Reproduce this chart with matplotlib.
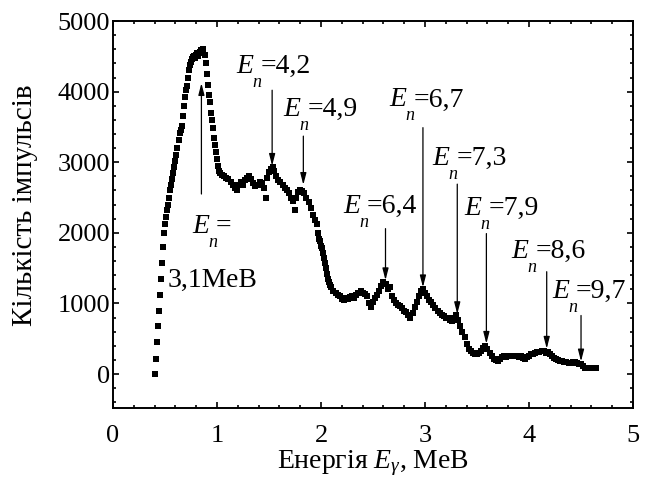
import numpy as np
import matplotlib
matplotlib.use("Agg")
import matplotlib.pyplot as plt
from matplotlib.ticker import MultipleLocator

plt.rcParams['font.family'] = ['Liberation Serif', 'DejaVu Serif']
plt.rcParams['mathtext.fontset'] = 'custom'
plt.rcParams['mathtext.rm'] = 'Liberation Serif'
plt.rcParams['mathtext.it'] = 'Liberation Serif:italic'

# spectrum: energy (MeV) and counts
energy = [0.40, 0.41, 0.42, 0.43, 0.44, 0.45, 0.46, 0.47, 0.48, 0.49,
          0.50, 0.51, 0.52, 0.53, 0.54, 0.55, 0.56, 0.57, 0.58, 0.59,
          0.60, 0.61, 0.62, 0.63, 0.64, 0.65, 0.66, 0.67, 0.68, 0.69,
          0.70, 0.71, 0.72, 0.73, 0.74, 0.75, 0.76, 0.77, 0.78, 0.79,
          0.80, 0.81, 0.82, 0.83, 0.84, 0.85, 0.86, 0.87, 0.88, 0.89,
          0.90, 0.91, 0.92, 0.93, 0.94, 0.95, 0.96, 0.97, 0.98, 0.99,
          1.00, 1.01, 1.02, 1.03, 1.05, 1.07, 1.09, 1.11, 1.13, 1.15,
          1.17, 1.19, 1.21, 1.23, 1.25, 1.27, 1.29, 1.31, 1.33, 1.35,
          1.37, 1.39, 1.41, 1.43, 1.45, 1.47, 1.48, 1.50, 1.52, 1.54,
          1.55, 1.57, 1.59, 1.61, 1.63, 1.65, 1.67, 1.69, 1.71, 1.73,
          1.75, 1.76, 1.78, 1.80, 1.82, 1.84, 1.86, 1.88, 1.90, 1.92,
          1.94, 1.96, 1.97, 1.98, 1.99, 2.00, 2.01, 2.02, 2.03, 2.04,
          2.05, 2.06, 2.07, 2.08, 2.09, 2.10, 2.12, 2.14, 2.16, 2.18,
          2.20, 2.22, 2.24, 2.26, 2.28, 2.30, 2.32, 2.34, 2.36, 2.38,
          2.40, 2.42, 2.44, 2.46, 2.48, 2.50, 2.52, 2.54, 2.56, 2.58,
          2.60, 2.62, 2.64, 2.66, 2.68, 2.70, 2.72, 2.74, 2.76, 2.78,
          2.80, 2.82, 2.84, 2.86, 2.88, 2.90, 2.92, 2.94, 2.96, 2.98,
          3.00, 3.02, 3.04, 3.06, 3.08, 3.10, 3.12, 3.14, 3.16, 3.18,
          3.20, 3.22, 3.24, 3.26, 3.28, 3.30, 3.32, 3.34, 3.36, 3.38,
          3.40, 3.42, 3.44, 3.46, 3.48, 3.50, 3.52, 3.54, 3.56, 3.58,
          3.60, 3.62, 3.64, 3.66, 3.68, 3.70, 3.72, 3.74, 3.76, 3.78,
          3.80, 3.82, 3.84, 3.86, 3.88, 3.90, 3.92, 3.94, 3.96, 3.98,
          4.00, 4.02, 4.04, 4.06, 4.08, 4.10, 4.12, 4.14, 4.16, 4.18,
          4.20, 4.22, 4.24, 4.26, 4.28, 4.30, 4.32, 4.34, 4.36, 4.38,
          4.40, 4.42, 4.44, 4.46, 4.48, 4.50, 4.52, 4.54, 4.56, 4.58,
          4.60, 4.62, 4.64]
counts = [0, 220, 450, 680, 900, 1120, 1350, 1580, 1800, 2000,
          2120, 2220, 2320, 2400, 2500, 2600, 2680, 2760, 2850, 2930,
          3020, 3100, 3200, 3320, 3420, 3450, 3520, 3650, 3800, 3920,
          4020, 4080, 4200, 4300, 4380, 4420, 4460, 4490, 4500, 4470,
          4520, 4550, 4500, 4540, 4560, 4590, 4570, 4600, 4520, 4400,
          4250, 4100, 3950, 3850, 3700, 3600, 3480, 3350, 3250, 3150,
          3050, 2950, 2880, 2850, 2820, 2800, 2780, 2760, 2720, 2680,
          2640, 2600, 2680, 2720, 2680, 2750, 2780, 2800, 2760, 2700,
          2660, 2680, 2720, 2700, 2640, 2500, 2780, 2860, 2900, 2930,
          2880, 2800, 2750, 2720, 2680, 2640, 2600, 2560, 2500, 2450,
          2320, 2500, 2580, 2600, 2590, 2560, 2500, 2440, 2350, 2250,
          2180, 2120, 2000, 1920, 1880, 1820, 1780, 1720, 1650, 1580,
          1500, 1420, 1350, 1300, 1260, 1230, 1180, 1150, 1120, 1100,
          1060, 1050, 1080, 1060, 1090, 1100, 1080, 1120, 1150, 1180,
          1150, 1130, 1100, 1000, 950, 1020, 1080, 1120, 1180, 1250,
          1300, 1280, 1200, 1230, 1100, 1050, 1000, 980, 960, 940,
          900, 880, 830, 800, 870, 950, 1020, 1100, 1180, 1200,
          1150, 1100, 1050, 1020, 980, 940, 900, 860, 830, 820,
          800, 790, 760, 750, 800, 830, 760, 680, 600, 520,
          420, 360, 320, 300, 280, 290, 300, 330, 370, 400,
          360, 300, 260, 220, 200, 190, 210, 240, 250, 240,
          260, 250, 250, 260, 250, 240, 250, 230, 220, 240,
          260, 280, 290, 300, 310, 310, 330, 320, 300, 310,
          290, 260, 230, 210, 200, 190, 180, 170, 170, 160,
          160, 170, 170, 160, 150, 140, 110, 90, 80, 80,
          80, 90, 90]

# peak markers: label value, arrow x, arrow top, arrow tip, label anchor (x, y)
peak_labels = ["4,2", "4,9", "6,4", "6,7", "7,3", "7,9", "8,6", "9,7"]
arrow_x = [1.53, 1.83, 2.62, 2.98, 3.31, 3.59, 4.17, 4.50]
arrow_top = [4020, 3370, 2060, 3490, 2690, 1990, 1450, 830]
arrow_tip = [2950, 2680, 1330, 1230, 850, 430, 360, 180]
label_x = [1.19, 1.64, 2.21, 2.66, 3.07, 3.38, 3.83, 4.22]
label_y = [4260, 3650, 2280, 3790, 2960, 2250, 1640, 1075]

main_x, main_top, main_tip = 0.85, 2550, 4120

fig = plt.figure(figsize=(6.48, 4.83), dpi=100)
ax = fig.add_axes([0.1744, 0.1553, 0.8025, 0.8012])

ax.plot(energy, counts, linestyle='none', marker='s', markersize=3.8,
        color='black', markeredgewidth=0)

ax.set_xlim(0, 5)
ax.set_ylim(-480, 5000)
ax.xaxis.set_major_locator(MultipleLocator(1))
ax.xaxis.set_minor_locator(MultipleLocator(0.2))
ax.yaxis.set_major_locator(MultipleLocator(1000))
ax.yaxis.set_minor_locator(MultipleLocator(200))
ax.tick_params(which='both', direction='in', top=True, right=True, width=1.2,
               labelsize=19)
ax.tick_params(axis='x', pad=12)
ax.tick_params(axis='y', pad=2)
ax.tick_params(which='major', length=4.5)
ax.tick_params(which='minor', length=2.5)
for s in ax.spines.values():
    s.set_linewidth(1.4)

ax.set_xlabel('Енергія $E_{\\gamma}$, МеВ', fontsize=20, labelpad=1)
ax.set_ylabel('Кількість імпульсів', fontsize=21)
ax.yaxis.set_label_coords(-0.145, 0.525)

arrow_style = dict(arrowstyle='-|>,head_length=0.7,head_width=0.18',
                   color='black', lw=0.9, shrinkA=0, shrinkB=0)


def en_label(x, y, value):
    ax.text(x, y, 'E', fontsize=20, style='italic', va='baseline', ha='left')
    ax.annotate('n', (x, y), xytext=(16, -14), textcoords='offset pixels',
                fontsize=13, style='italic', va='baseline', ha='left')
    ax.annotate('=' + value, (x, y), xytext=(24, 0), textcoords='offset pixels',
                fontsize=20, va='baseline', ha='left')


for lab, ax_x, top, tip, lx, ly in zip(peak_labels, arrow_x, arrow_top,
                                       arrow_tip, label_x, label_y):
    ax.annotate('', xy=(ax_x, tip), xytext=(ax_x, top), arrowprops=arrow_style)
    en_label(lx, ly, lab)

ax.annotate('', xy=(main_x, main_tip), xytext=(main_x, main_top),
            arrowprops=arrow_style)
en_label(0.76, 2000, '')
ax.text(0.52, 1230, '3,1МеВ', fontsize=20, va='baseline', ha='left')

fig.savefig('out.png', dpi=100)
